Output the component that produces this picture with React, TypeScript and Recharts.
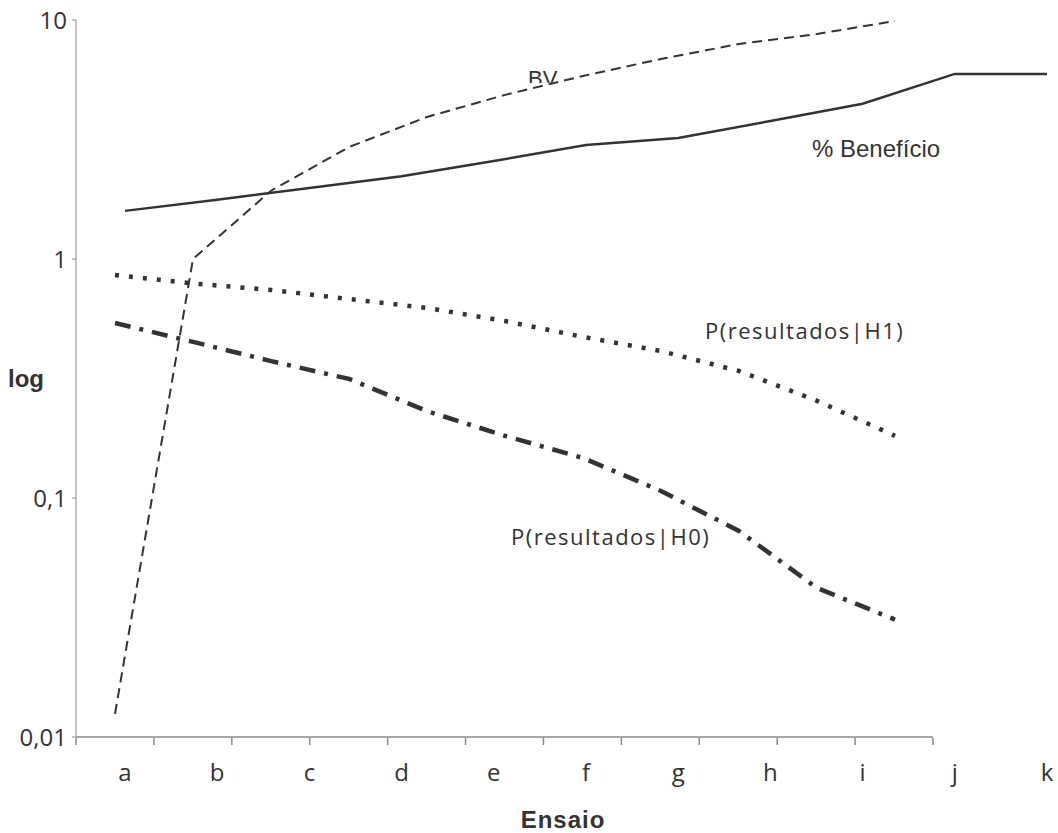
import {
  LineChart,
  Line,
  XAxis,
  YAxis,
  ReferenceLine,
  Label,
} from "recharts";

// categorias do eixo x
const ensaios = ["a", "b", "c", "d", "e", "f", "g", "h", "i", "j", "k"];

// % Benefício (alinhado com as letras)
const beneficio = [1.59, 1.77, 1.98, 2.22, 2.57, 3.0, 3.21, 3.78, 4.46, 5.95, 5.95];
// BV, P(resultados|H1), P(resultados|H0) (alinhados com as marcas do eixo)
const bv = [0.0125, 1.0, 1.93, 2.94, 3.93, 4.86, 5.83, 6.87, 7.94, 8.74, 9.9];
const h1 = [0.857, 0.79, 0.742, 0.68, 0.624, 0.55, 0.472, 0.412, 0.34, 0.255, 0.182];
const h0 = [0.54, 0.45, 0.374, 0.315, 0.231, 0.182, 0.147, 0.107, 0.0728, 0.042, 0.031];

const yTicks = [0.01, 0.1, 1, 10];
const tickMarks = [0, 1, 2, 3, 4, 5, 6, 7, 8, 9, 10, 11];

const data = ensaios.map((label, i) => ({
  label,
  pos: i,
  beneficio: beneficio[i],
  bv: bv[i],
  h1: h1[i],
  h0: h0[i],
}));

const INK = "#333";
const AXIS = "#8a8a8a";

const fmtY = (v: number) => String(v).replace(".", ",");

// props estáveis para os eixos
const noLabel = () => <g />;
const markLine = { stroke: AXIS, strokeWidth: 1.5 };
const axisStroke = { stroke: AXIS };
const tickFont = { fill: INK, fontSize: 24, fontFamily: "Open Sans" };
const marksDomain = [0, 11];
const marksPad = { left: 0, right: 117 };
const lblPad = { left: 49, right: 3 };
const tPad = { left: 39, right: 155 };
const yDomain = [0.01, 10];
const baseSegment = [
  { x: 0, y: 0.01 },
  { x: 11, y: 0.01 },
];

export default function App() {
  return (
    <div style={{ position: "absolute", left: 0, top: 0, width: 1058, height: 833, background: "#fff" }}>
      <LineChart
        width={1058}
        height={833}
        data={data}
        margin={{ top: 20, right: 8, left: 0, bottom: 94 }}
      >
        <XAxis
          xAxisId="marks"
          dataKey="pos"
          type="number"
          domain={marksDomain}
          allowDataOverflow
          ticks={tickMarks}
          interval={0}
          padding={marksPad}
          height={1}
          axisLine={false}
          tickLine={markLine}
          tickSize={7}
          tick={noLabel}
        />
        <XAxis
          xAxisId="lbl"
          dataKey="label"
          scale="point"
          padding={lblPad}
          height={1}
          axisLine={false}
          tickLine={false}
          tickSize={6}
          tickMargin={21}
          tick={tickFont}
        >
          <Label
            value="Ensaio"
            position="bottom"
            offset={73}
            fill={INK}
            fontSize={24}
            fontWeight="bold"
            fontFamily="Liberation Sans"
            letterSpacing={1}
          />
        </XAxis>
        <XAxis
          xAxisId="t"
          dataKey="label"
          scale="point"
          padding={tPad}
          hide
        />
        <YAxis
          scale="log"
          domain={yDomain}
          allowDataOverflow
          ticks={yTicks}
          tickFormatter={fmtY}
          width={76}
          axisLine={axisStroke}
          tickLine={axisStroke}
          tickSize={4}
          tickMargin={5}
          tick={tickFont}
        >
          <Label
            value="log"
            position="insideLeft"
            offset={8}
            fill={INK}
            fontSize={24}
            fontWeight="bold"
            fontFamily="Liberation Sans"
          />
        </YAxis>
        <ReferenceLine
          xAxisId="marks"
          segment={baseSegment}
          ifOverflow="visible"
          stroke={AXIS}
          strokeWidth={1.5}
        />
        <Line
          xAxisId="lbl"
          type="linear"
          dataKey="beneficio"
          stroke={INK}
          strokeWidth={2.5}
          dot={false}
          isAnimationActive={false}
        />
        <Line
          xAxisId="t"
          type="linear"
          dataKey="bv"
          stroke={INK}
          strokeWidth={2}
          strokeDasharray="10 6"
          dot={false}
          isAnimationActive={false}
        />
        <Line
          xAxisId="t"
          type="linear"
          dataKey="h1"
          stroke={INK}
          strokeWidth={4.5}
          strokeDasharray="4 10"
          dot={false}
          isAnimationActive={false}
        />
        <Line
          xAxisId="t"
          type="linear"
          dataKey="h0"
          stroke={INK}
          strokeWidth={4.5}
          strokeDasharray="16 9 4 9"
          dot={false}
          isAnimationActive={false}
        />
      </LineChart>
      <svg
        width={1058}
        height={833}
        style={{ position: "absolute", left: 0, top: 0, pointerEvents: "none" }}
      >
        <defs>
          <clipPath id="bvClip">
            <rect x={520} y={60} width={50} height={23} />
          </clipPath>
        </defs>
        <text x={528} y={86} fontSize={22} fontFamily="Liberation Sans" fill={INK} clipPath="url(#bvClip)">
          BV
        </text>
        <text x={812} y={157} fontSize={24} fontFamily="Liberation Sans" fill={INK}>
          % Benefício
        </text>
        <text x={705} y={339} fontSize={22} fontFamily="Open Sans" letterSpacing={1.5} fill={INK}>
          P(resultados|H1)
        </text>
        <text x={511} y={545} fontSize={22} fontFamily="Open Sans" letterSpacing={1.5} fill={INK}>
          P(resultados|H0)
        </text>
      </svg>
    </div>
  );
}
